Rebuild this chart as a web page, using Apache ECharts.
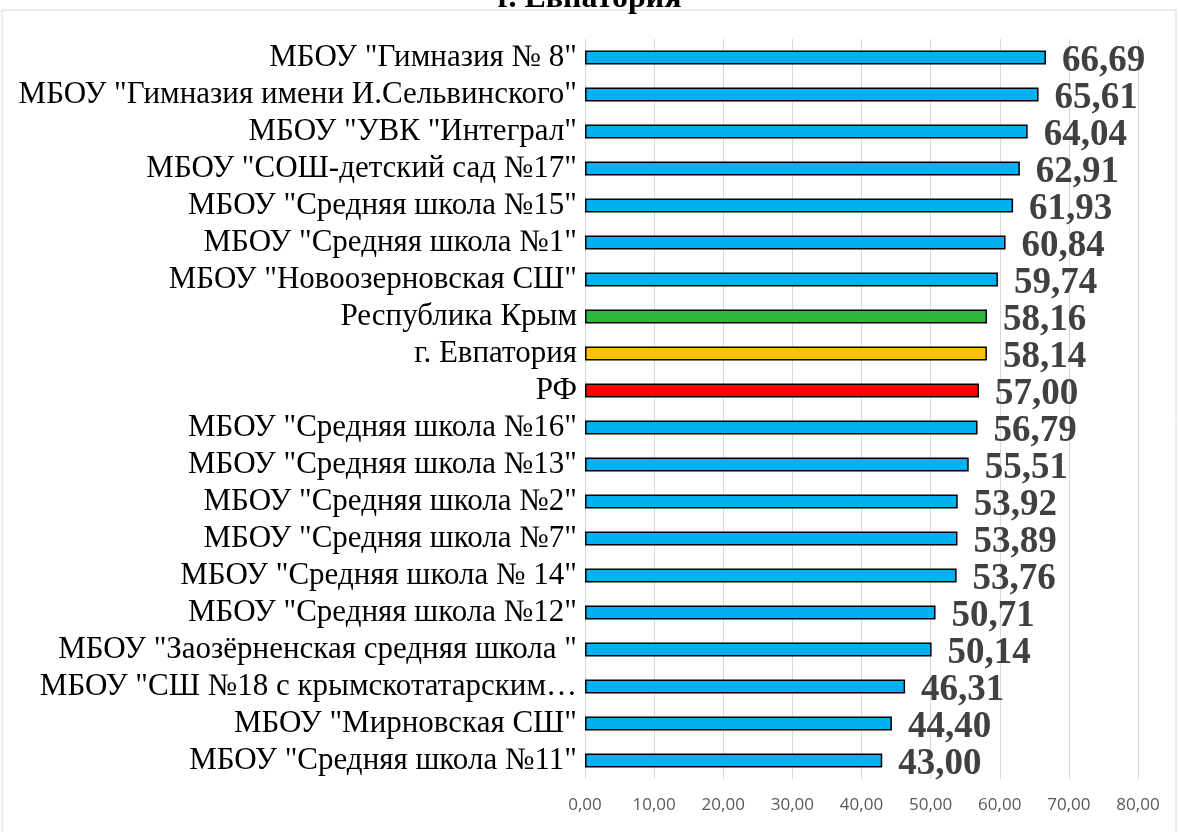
<!DOCTYPE html>
<html lang="ru">
    <head>
        <title>г. Евпатория</title>
        <meta charset="utf-8">
        <script src='https://cdn.jsdelivr.net/npm/echarts@6/dist/echarts.min.js'></script>
    </head>

    <style>
        html, body, #main {
            width: 100%;
            height: 100%;
            margin: 0;
            background: #fff;
        }
    </style>

    <body>
        <div id='main'></div>

        <script>
            const schools = [
                'МБОУ "Гимназия № 8"',
                'МБОУ "Гимназия имени И.Сельвинского"',
                'МБОУ "УВК "Интеграл"',
                'МБОУ "СОШ-детский сад №17"',
                'МБОУ "Средняя школа №15"',
                'МБОУ "Средняя школа №1"',
                'МБОУ "Новоозерновская СШ"',
                'Республика Крым',
                'г. Евпатория',
                'РФ',
                'МБОУ "Средняя школа №16"',
                'МБОУ "Средняя школа №13"',
                'МБОУ "Средняя школа №2"',
                'МБОУ "Средняя школа №7"',
                'МБОУ "Средняя школа № 14"',
                'МБОУ "Средняя школа №12"',
                'МБОУ "Заозёрненская средняя школа "',
                'МБОУ "СШ №18 с крымскотатарским…',
                'МБОУ "Мирновская СШ"',
                'МБОУ "Средняя школа №11"'
            ];
            const scores = [66.69, 65.61, 64.04, 62.91, 61.93, 60.84, 59.74, 58.16, 58.14, 57.00,
                            56.79, 55.51, 53.92, 53.89, 53.76, 50.71, 50.14, 46.31, 44.40, 43.00];
            const highlight = {
                'Республика Крым': '#2db83d',
                'г. Евпатория': '#ffc000',
                'РФ': '#ff0000'
            };

            const chart = echarts.init(document.getElementById('main'));

            const option = {
                title: {
                    text: 'г. Евпатория',
                    left: 'center',
                    top: -22,
                    textStyle: {
                        fontFamily: 'Liberation Serif',
                        fontSize: 32,
                        fontWeight: 'bold',
                        color: '#000'
                    }
                },
                graphic: [{
                    type: 'rect',
                    shape: { x: 2, y: 10, width: 1174, height: 830 },
                    style: { fill: 'none', stroke: '#d9d9d9', lineWidth: 1 },
                    silent: true
                }],
                grid: {
                    left: 585,
                    right: 41,
                    top: 39,
                    bottom: 53
                },
                xAxis: {
                    type: 'value',
                    min: 0,
                    max: 80,
                    interval: 10,
                    axisLine: { show: false },
                    axisTick: { show: false },
                    splitLine: { lineStyle: { color: '#d9d9d9', width: 1 } },
                    axisLabel: {
                        margin: 18,
                        fontFamily: 'Open Sans',
                        fontSize: 17,
                        color: '#595959',
                        formatter: v => v.toFixed(2).replace('.', ',')
                    }
                },
                yAxis: {
                    type: 'category',
                    inverse: true,
                    data: schools,
                    axisLine: { show: false },
                    axisTick: { show: false },
                    axisLabel: {
                        interval: 0,
                        margin: 8,
                        fontFamily: 'Liberation Serif',
                        fontSize: 31,
                        color: '#000'
                    }
                },
                series: [{
                    type: 'bar',
                    barWidth: 14,
                    data: scores.map((v, i) => ({
                        value: v,
                        itemStyle: { color: highlight[schools[i]] || '#00b0f0' }
                    })),
                    itemStyle: {
                        borderColor: '#000',
                        borderWidth: 1.5
                    },
                    label: {
                        show: true,
                        position: 'right',
                        distance: 16,
                        offset: [0, 4],
                        fontFamily: 'Liberation Serif',
                        fontSize: 37,
                        fontWeight: 'bold',
                        color: '#404040',
                        formatter: p => p.value.toFixed(2).replace('.', ',')
                    }
                }]
            };

            chart.setOption(option);

            window.onresize = function () {
                chart.resize();
            }
        </script>
    </body>
</html>
